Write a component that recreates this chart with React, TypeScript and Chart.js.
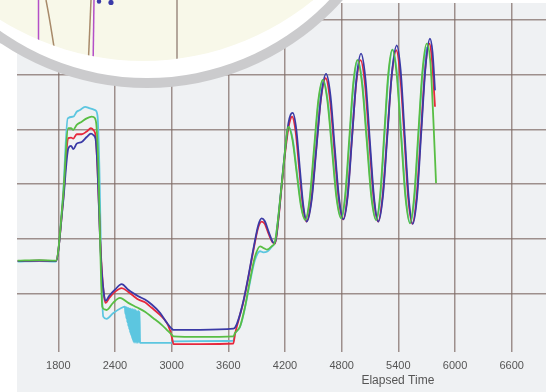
import React, { useEffect, useRef } from 'react';
import { Chart, registerables } from 'chart.js';

Chart.register(...registerables);

const xTicks = [1800, 2400, 3000, 3600, 4200, 4800, 5400, 6000, 6600];
const yGridValues = [100, 200, 300, 400, 500, 600];
const xAxisTitle = 'Elapsed Time';

const blueSeries: [number, number][] = [
  [1370,160],[1600,161],[1775,160],[1850,265],[1906,365],[1935,370],[1959,364],[1995,374],[2048,377],[2101,386],[2146,392],[2175,389],[2195,382],[2215,330],[2240,210],[2259,144],[2285,98],[2302,88],[2340,97],[2400,108],[2471,118],[2541,108],[2600,101],[2647,96],[2718,90],[2789,81],[2877,66],[2948,48],[3000,37],[3018,35],[3300,35],[3653,37],[3675,40],[3706,53],[3759,87],[3812,132],[3864,181],[3918,226],[3953,238],[3985,233],[4030,212],[4070,195],[4095,193],[4130,238],[4166,302],[4201,362],[4236,411],[4260,427],[4282,430],
  [4319,401],[4356,331],[4394,261],[4431,232],
  [4482,271],[4533,366],[4584,462],[4635,501],
  [4681,462],[4726,368],[4772,275],[4818,236],
  [4865,280],[4911,387],[4958,494],[5005,538],
  [5051,493],[5096,385],[5142,277],[5188,232],
  [5237,279],[5285,392],[5334,506],[5383,553],
  [5425,506],[5467,390],[5510,275],[5552,228],
  [5598,277],[5643,396],[5689,516],[5735,565],
  [5762,540],[5788,471],
];

const redSeries: [number, number][] = [
  [1370,160],[1600,161],[1775,160],[1850,268],[1906,384],[1935,385],[1959,383],[1995,391],[2048,391],[2101,396],[2146,402],[2175,398],[2195,388],[2215,330],[2240,215],[2259,150],[2285,96],[2302,84],[2340,93],[2400,104],[2471,111],[2541,104],[2600,96],[2647,90],[2718,85],[2789,75],[2877,62],[2948,48],[2983,34],[3007,18],[3020,9],[3300,9],[3653,10],[3672,28],[3706,51],[3759,85],[3812,130],[3864,178],[3918,222],[3953,232],[3985,228],[4030,208],[4070,194],[4095,192],[4130,235],[4166,298],[4201,356],[4236,402],[4258,419],[4275,423],
  [4313,395],[4351,327],[4390,260],[4428,232],
  [4478,270],[4529,362],[4580,455],[4630,493],
  [4676,455],[4722,364],[4769,274],[4815,236],
  [4861,278],[4907,381],[4954,484],[5000,526],
  [5046,483],[5092,379],[5139,275],[5185,232],
  [5233,278],[5281,388],[5330,498],[5378,544],
  [5420,498],[5463,386],[5505,274],[5548,228],
  [5593,276],[5638,392],[5683,508],[5728,556],
  [5755,528],[5788,441],
];

const greenSeries: [number, number][] = [
  [1370,161],[1600,162],[1775,161],[1850,275],[1906,402],[1935,402],[1959,399],[1995,408],[2048,414],[2101,420],[2154,423],[2189,420],[2205,405],[2225,330],[2245,180],[2266,77],[2290,72],[2312,71],[2380,84],[2453,93],[2541,84],[2630,76],[2718,68],[2800,57],[2895,44],[2960,33],[3001,26],[3018,23],[3300,22],[3653,23],[3671,29],[3724,41],[3777,77],[3830,126],[3882,168],[3936,187],[3971,184],[4007,181],[4059,187],[4095,196],[4148,271],[4201,362],[4222,395],[4236,405],
  [4280,380],[4324,320],[4369,260],[4413,235],
  [4460,272],[4506,362],[4553,453],[4600,490],
  [4648,453],[4697,364],[4745,275],[4794,238],
  [4837,280],[4880,382],[4923,484],[4966,526],
  [5015,484],[5065,380],[5114,277],[5164,235],
  [5207,280],[5250,390],[5293,500],[5336,545],
  [5383,499],[5429,387],[5476,275],[5523,229],
  [5567,277],[5611,392],[5656,508],[5700,556],
  [5740,520],[5770,420],[5799,302],
];

const cyanSeries: [number, number][] = [
  [1370,159],[1600,160],[1775,159],[1850,280],[1900,420],[1959,423],[1995,432],[2030,435],[2083,441],[2136,438],[2189,435],[2215,425],[2235,330],[2255,150],[2276,59],[2312,55],[2380,65],[2471,75],
  [2505,77],[2510,64],[2515,76],[2520,56],[2525,76],[2530,49],[2535,75],[2540,42],[2545,75],[2550,36],[2555,74],[2560,30],[2565,74],[2570,25],[2575,73],[2580,20],[2585,73],[2590,15],[2595,72],[2600,12],[2605,72],[2612,11],[2618,71],[2625,11],[2632,70],[2640,11],[2647,70],[2655,11],[2660,68],[2666,11],
  [2683,11],[3001,11],[3010,14],[3653,15],[3671,28],[3724,40],[3777,75],[3830,122],[3882,162],[3936,178],[3971,176],[4007,177],[4059,186],[4095,196],[4148,270],[4201,360],[4222,393],[4240,404],
  [4284,380],[4328,320],[4373,260],[4417,235],
  [4464,272],[4510,362],[4557,453],[4604,490],
  [4652,453],[4701,364],[4749,275],[4798,238],
  [4841,280],[4884,382],[4927,484],[4970,526],
  [5019,484],[5069,380],[5118,277],[5168,235],
  [5211,280],[5254,390],[5297,500],[5340,545],
  [5387,499],[5433,387],[5480,275],[5527,229],
  [5571,277],[5615,392],[5660,508],[5700,550],
];

const seriesColors = {
  blue: '#3a3aa6',
  red: '#e6283c',
  green: '#58be44',
  cyan: '#5cc6e0',
};

const FONT = '"Liberation Sans", Arial, sans-serif';
const GRID = 'rgba(125,105,100,0.72)';

const toPoints = (s: [number, number][]) => s.map(([x, y]) => ({ x, y }));

export default function App() {
  const ref = useRef<HTMLCanvasElement>(null);

  useEffect(() => {
    document.body.style.margin = '0';
    const canvas = ref.current;
    if (!canvas) return;

    const bgPlugin = {
      id: 'bgPlugin',
      beforeDraw(chart: any) {
        const { ctx, width, height, chartArea } = chart;
        ctx.save();
        ctx.fillStyle = '#ffffff';
        ctx.fillRect(0, 0, width, height);
        ctx.fillStyle = '#eff1f3';
        ctx.fillRect(chartArea.left, 3, chartArea.right - chartArea.left, height - 3);
        ctx.restore();
      },
    };

    const overlayPlugin = {
      id: 'overlayPlugin',
      afterDraw(chart: any) {
        const { ctx, chartArea } = chart;
        ctx.save();
        ctx.font = `12px ${FONT}`;
        ctx.fillStyle = '#555555';
        ctx.textAlign = 'center';
        ctx.textBaseline = 'alphabetic';
        ctx.fillText(xAxisTitle, chartArea.left + (chartArea.right - chartArea.left) * 0.72, 384);

        // magnifier lens
        ctx.beginPath();
        ctx.arc(147, -174, 262, 0, Math.PI * 2);
        ctx.fillStyle = '#cbcbcd';
        ctx.fill();
        ctx.beginPath();
        ctx.arc(147, -174, 252, 0, Math.PI * 2);
        ctx.fillStyle = '#ffffff';
        ctx.fill();
        ctx.clip();
        ctx.beginPath();
        ctx.arc(143, -207, 268, 0, Math.PI * 2);
        ctx.fillStyle = '#f8f8e9';
        ctx.fill();
        ctx.clip();

        ctx.lineWidth = 1.5;
        ctx.strokeStyle = 'rgba(140,120,110,0.85)';
        ctx.beginPath();
        ctx.moveTo(177, 0);
        ctx.lineTo(177, 80);
        ctx.stroke();

        ctx.strokeStyle = '#b44fc8';
        ctx.beginPath();
        ctx.moveTo(38.5, 0);
        ctx.lineTo(38.5, 50);
        ctx.stroke();
        ctx.beginPath();
        ctx.moveTo(94, 0);
        ctx.lineTo(93, 70);
        ctx.stroke();

        ctx.strokeStyle = '#a88a6a';
        ctx.beginPath();
        ctx.moveTo(46, 0);
        ctx.quadraticCurveTo(50, 20, 56, 60);
        ctx.stroke();
        ctx.beginPath();
        ctx.moveTo(91, 0);
        ctx.lineTo(88, 70);
        ctx.stroke();

        ctx.fillStyle = '#3a3aa8';
        ctx.beginPath();
        ctx.arc(99, 1.5, 2.2, 0, Math.PI * 2);
        ctx.fill();
        ctx.beginPath();
        ctx.arc(111, 2.5, 2.6, 0, Math.PI * 2);
        ctx.fill();

        ctx.restore();
      },
    };

    const mk = (label: string, data: [number, number][], color: string) => ({
      label,
      data: toPoints(data),
      borderColor: color,
      backgroundColor: color,
      borderWidth: 1.8,
      pointRadius: 0,
      fill: false,
      cubicInterpolationMode: 'monotone' as const,
    });

    const chart = new Chart(canvas, {
      type: 'line',
      data: {
        datasets: [
          mk('Green', greenSeries, seriesColors.green),
          mk('Blue', blueSeries, seriesColors.blue),
          mk('Red', redSeries, seriesColors.red),
          mk('Cyan', cyanSeries, seriesColors.cyan),
        ],
      },
      options: {
        animation: false,
        responsive: false,
        maintainAspectRatio: false,
        layout: { padding: { left: 17, right: 5, top: 3, bottom: 0 } },
        plugins: {
          legend: { display: false },
          tooltip: { enabled: false },
        },
        scales: {
          x: {
            type: 'linear',
            min: 1363,
            max: 6963,
            afterBuildTicks: (s: any) => {
              s.ticks = xTicks.map((v) => ({ value: v }));
            },
            afterFit: (s: any) => {
              s.height = 43;
            },
            ticks: {
              font: { size: 11, family: FONT },
              color: '#555555',
              maxRotation: 0,
              autoSkip: false,
              padding: 7,
              callback: (v: any) => String(v),
            },
            grid: { color: GRID, lineWidth: 1.5, tickLength: 3, drawTicks: true },
            border: { display: false },
          },
          y: {
            type: 'linear',
            min: 0,
            max: 630,
            afterBuildTicks: (s: any) => {
              s.ticks = yGridValues.map((v) => ({ value: v }));
            },
            afterFit: (s: any) => {
              s.width = 0;
            },
            ticks: { display: false },
            grid: { color: GRID, lineWidth: 1.5, drawTicks: false },
            border: { display: false },
          },
        },
      },
      plugins: [bgPlugin, overlayPlugin],
    });

    return () => chart.destroy();
  }, []);

  return (
    <div style={{ position: 'fixed', left: 0, top: 0, width: 551, height: 392 }}>
      <canvas ref={ref} width={551} height={392} style={{ width: 551, height: 392, display: 'block' }} />
    </div>
  );
}
